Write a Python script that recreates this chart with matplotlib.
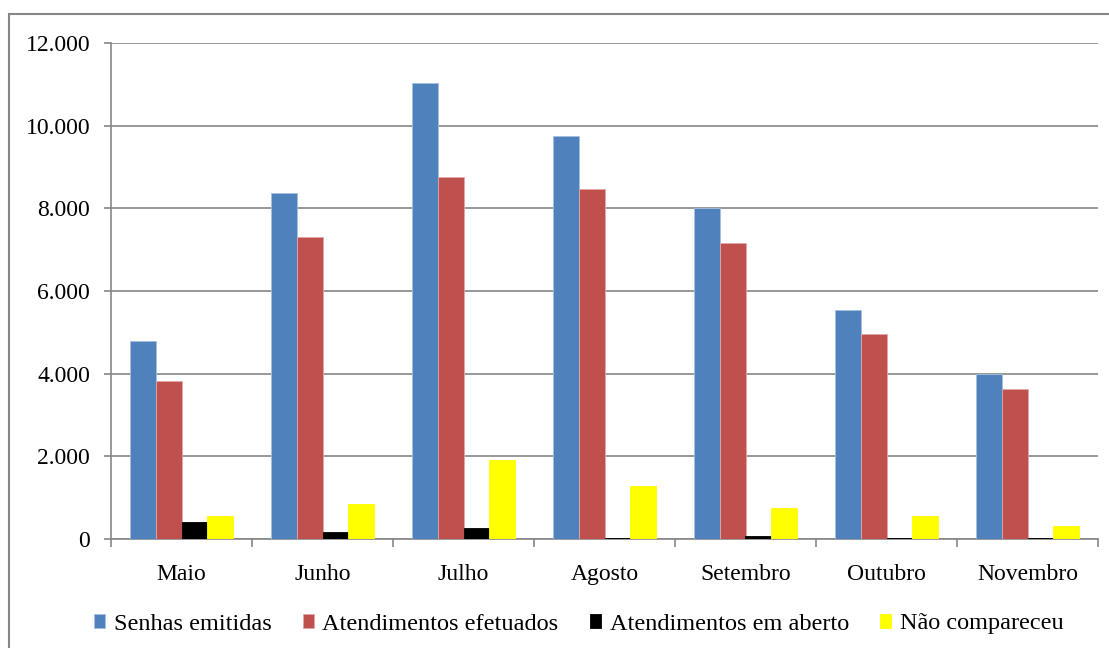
import numpy as np
import matplotlib
matplotlib.use("Agg")
import matplotlib.pyplot as plt
from matplotlib.patches import Rectangle
from matplotlib.ticker import FuncFormatter, MultipleLocator

plt.rcParams['font.family'] = ['Liberation Serif', 'DejaVu Serif']

meses = ["Maio", "Junho", "Julho", "Agosto", "Setembro", "Outubro", "Novembro"]
series = ["Senhas emitidas", "Atendimentos efetuados", "Atendimentos em aberto", "Não compareceu"]
senhas = [4780, 8360, 11030, 9760, 8020, 5550, 4000]
efetuados = [3820, 7300, 8750, 8470, 7150, 4970, 3620]
em_aberto = [420, 175, 275, 15, 80, 15, 15]
nao_compareceu = [560, 850, 1910, 1280, 760, 560, 320]
cores = ["#4F81BD", "#C0504D", "#000000", "#FFFF00"]
bordas = ["#A7C0DE", "#DFA8A6", "#000000", "#FFFF00"]

grid_c = "#868686"

fig = plt.figure(figsize=(11.09, 6.48), dpi=100)
ax = fig.add_axes([111/1109, 1-539/648, 987/1109, 496/648])

x = np.arange(len(meses))
w = 0.181
dados = [senhas, efetuados, em_aberto, nao_compareceu]
for i, vals in enumerate(dados):
    ax.bar(x + (i - 1.5)*w, vals, w, color=cores[i], edgecolor=bordas[i],
           linewidth=0.6, label=series[i], zorder=3)

ax.set_xlim(-0.5, 6.5)
ax.set_ylim(0, 12000)
ax.yaxis.set_major_locator(MultipleLocator(2000))
ax.yaxis.set_major_formatter(FuncFormatter(lambda v, p: "{:,.0f}".format(v).replace(",", ".")))
ax.grid(axis='y', color=grid_c, linewidth=1.2, zorder=0)

ax.set_xticks(x)
ax.set_xticklabels(meses)
ax.set_xticks(np.arange(-0.5, 7, 1), minor=True)
ax.tick_params(axis='x', which='major', length=0, pad=18, labelsize=17)
ax.tick_params(axis='x', which='minor', length=6, width=1.2, color=grid_c)
ax.tick_params(axis='y', length=5, width=1.2, color=grid_c, pad=10, labelsize=17)

for s in ['top', 'right']:
    ax.spines[s].set_visible(False)
for s in ['left', 'bottom']:
    ax.spines[s].set_color(grid_c)
    ax.spines[s].set_linewidth(1.2)

fig.legend(loc='center', bbox_to_anchor=(0.522, 1-624/648), ncol=4, frameon=False,
           prop={'family': 'Liberation Serif', 'size': 17.5},
           handlelength=0.45, handleheight=0.55, handletextpad=0.35,
           columnspacing=1.3)

fig.patches.append(Rectangle((9/1109, -0.05), 1.2, 1-14/648+0.05, transform=fig.transFigure,
                             fill=False, edgecolor=grid_c, linewidth=1.5))

fig.savefig("out.png", dpi=100)
